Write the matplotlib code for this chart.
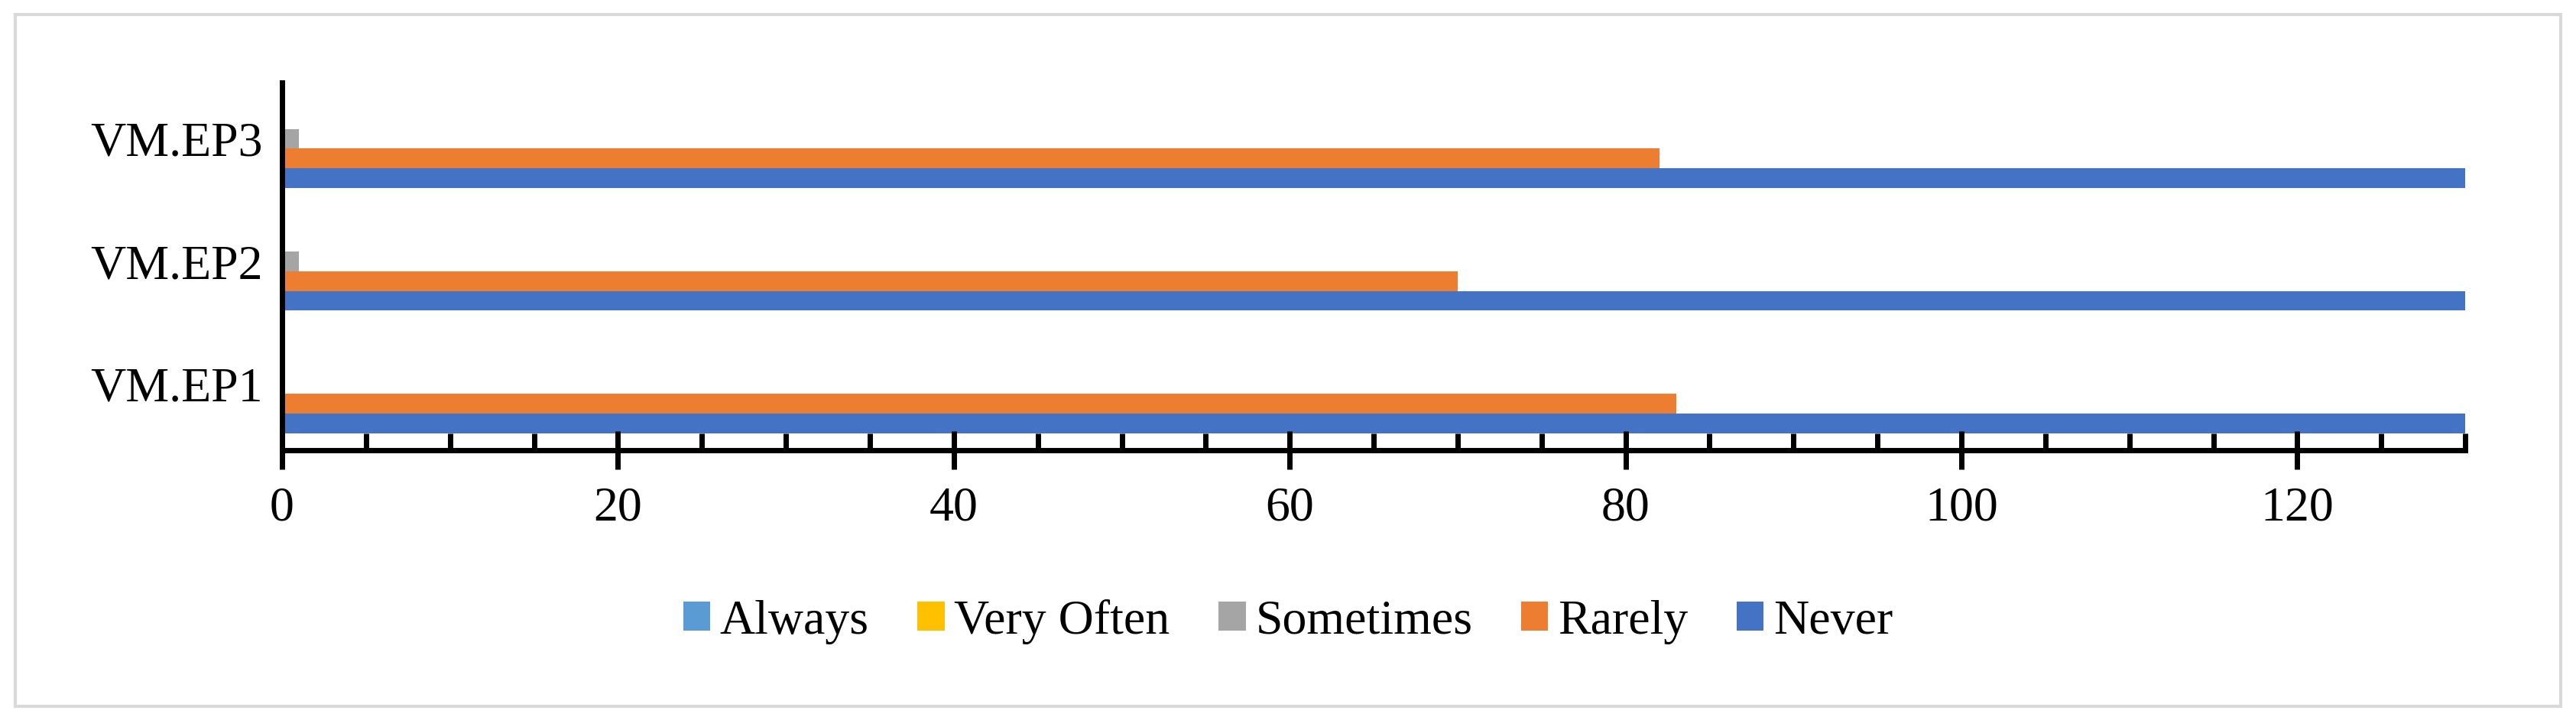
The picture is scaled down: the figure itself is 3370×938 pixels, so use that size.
import matplotlib
matplotlib.use("Agg")
import matplotlib.pyplot as plt
import numpy as np
from matplotlib.patches import Rectangle
from matplotlib.ticker import MultipleLocator

categories = ["VM.EP1", "VM.EP2", "VM.EP3"]
series = ["Always", "Very Often", "Sometimes", "Rarely", "Never"]
always = [0, 0, 0]
very_often = [0, 0, 0]
sometimes = [0, 1, 1]
rarely = [83, 70, 82]
never = [140, 140, 140]
colors = ["#5B9BD5", "#FFC000", "#A5A5A5", "#ED7D31", "#4472C4"]

plt.rcParams["font.family"] = ["Liberation Serif", "DejaVu Serif"]

fig = plt.figure(figsize=(33.7, 9.38), dpi=100)
ax = fig.add_axes([0.1095, 0.372, 0.8475, 0.513])

values = [always, very_often, sometimes, rarely, never]
h = 0.16
y = np.arange(len(categories))
# Never at bottom of each group, Always on top
for i, (name, vals, c) in enumerate(zip(series, values, colors)):
    offset = (2 - i) * h
    ax.barh(y + offset, vals, height=h, color=c, label=name)

ax.set_xlim(0, 130)
ax.set_ylim(-0.54, 2.46)
ax.set_yticks(y)
ax.set_yticklabels(categories, fontsize=46)
ax.tick_params(axis="y", length=0, pad=18)
ax.xaxis.set_major_locator(MultipleLocator(20))
ax.xaxis.set_minor_locator(MultipleLocator(5))
ax.tick_params(axis="x", which="major", direction="inout", length=36, width=5, labelsize=46, pad=16)
ax.tick_params(axis="x", which="minor", direction="in", length=16, width=5)
for s in ["top", "right"]:
    ax.spines[s].set_visible(False)
for s in ["left", "bottom"]:
    ax.spines[s].set_linewidth(5)
    ax.spines[s].set_color("black")

ax.legend(loc="center", bbox_to_anchor=(0.5, 1 - 813 / 938), bbox_transform=fig.transFigure,
          ncol=5, frameon=False, fontsize=46, handlelength=0.55, handleheight=0.55,
          handletextpad=0.2, columnspacing=1.0)

fig.patches.append(Rectangle((0.006, 0.015), 0.988, 0.965, transform=fig.transFigure,
                             fill=False, edgecolor="#d9d9d9", linewidth=3))

fig.savefig("out.png", dpi=100)
